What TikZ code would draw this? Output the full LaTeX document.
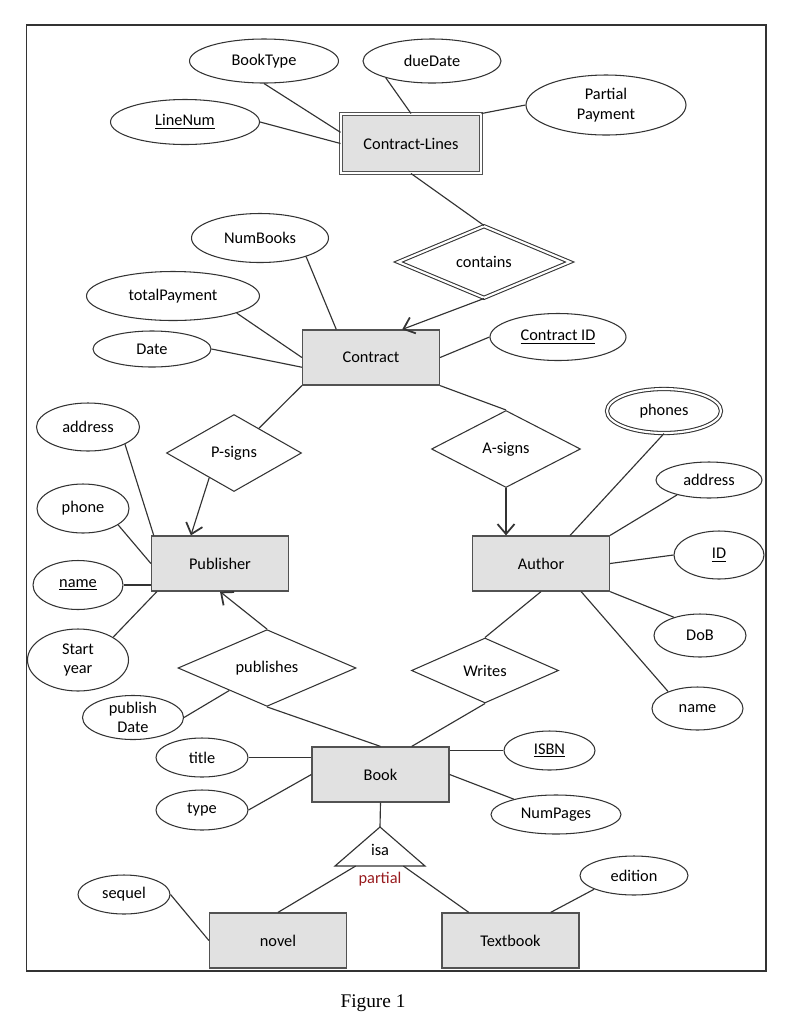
\documentclass[tikz,border=0pt]{standalone}
\usepackage{fontspec}
\setmainfont{Carlito}
\newfontfamily\capfont{Liberation Serif}
\usetikzlibrary{arrows.meta, calc, shapes.geometric}
\definecolor{entfill}{HTML}{E1E1E1}
\definecolor{edgegray}{HTML}{333333}
\definecolor{partred}{HTML}{981B1E}
\tikzset{
  erfont/.style     = {font=\fontsize{9.3}{11.2}\selectfont, text=black},
  entity/.style     = {rectangle, draw=edgegray!85, fill=entfill, line width=0.7pt,
                       minimum width=27.4mm, minimum height=11mm, inner sep=0pt, erfont},
  weakentity/.style = {entity, double=white, double distance=1.3pt, line width=0.55pt,
                       minimum width=28mm, minimum height=11.8mm},
  attr/.style 2 args      = {ellipse, draw=edgegray, fill=white, line width=0.6pt,
                             minimum width=#1, minimum height=#2, inner sep=0pt,
                             erfont, align=center},
  multiattr/.style 2 args = {attr={#1}{#2}, double=white, double distance=1.2pt},
  rel/.style 2 args       = {diamond, draw=edgegray, fill=white, line width=0.6pt,
                             minimum width=#1, minimum height=#2, inner sep=0pt, erfont},
  weakrel/.style 2 args   = {rel={#1}{#2}, double=white, double distance=1.2pt},
  link/.style       = {draw=edgegray, line width=0.65pt},
  onearrow/.style   = {link, -{Straight Barb[length=2mm, width=3.4mm, line width=1pt]}},
}

\begin{document}
\begin{tikzpicture}[x=0.2mm, y=-0.2mm]
  \useasboundingbox (0,0) rectangle (786,1024);
  \draw[edgegray, line width=0.8pt] (26.5,25) rectangle (766,971);

  % contract lines
  \node[weakentity] (clines) at (411,143.5) {Contract-Lines};
  \node[attr={29.8mm}{8.8mm}] (booktype) at (264,61) {BookType};
  \node[attr={27.6mm}{8.8mm}] (duedate) at (432,61) {dueDate};
  \node[attr={32mm}{12mm}] (partpay) at (606,105) {Partial\\Payment};
  \node[attr={29.8mm}{9mm}] (linenum) at (185,122) {\underline{LineNum}};
  \node[weakrel={34.4mm}{14.4mm}] (contains) at (484,262) {contains};

  % contract
  \node[entity] (contract) at (371,357.5) {Contract};
  \node[attr={27.4mm}{9.8mm}] (numbooks) at (260,238) {NumBooks};
  \node[attr={34.6mm}{9.8mm}] (totpay) at (173,296) {totalPayment};
  \node[attr={23.6mm}{7.2mm}] (date) at (152,349) {Date};
  \node[attr={27.2mm}{9.4mm}] (contractid) at (558,337) {\underline{Contract ID}};
  \node[rel={27mm}{15.4mm}] (psigns) at (234,453) {P-signs};
  \node[rel={29.8mm}{15.4mm}] (asigns) at (506,449) {A-signs};

  % publisher
  \node[entity] (publisher) at (220,563.5) {Publisher};
  \node[attr={20.6mm}{9.6mm}] (pubaddr) at (88,427) {address};
  \node[attr={18.4mm}{9.8mm}] (pubphone) at (83,508.5) {phone};
  \node[attr={18mm}{9.8mm}] (pubname) at (78,585) {\underline{name}};
  \node[attr={20.2mm}{12.4mm}] (startyear) at (78,660) {Start\\year};

  % author
  \node[entity] (author) at (541,563.5) {Author};
  \node[multiattr={22.8mm}{8.8mm}] (phones) at (664,411) {phones};
  \node[attr={21.2mm}{7.2mm}] (autaddr) at (709,480) {address};
  \node[attr={18mm}{9.6mm}] (autid) at (719,555) {\underline{ID}};
  \node[attr={18.4mm}{8.6mm}] (dob) at (700,635.5) {DoB};
  \node[attr={18.2mm}{8.6mm}] (autname) at (697.5,708.5) {name};

  \node[rel={35.6mm}{14mm}] (publishes) at (267,668) {publishes};
  \node[rel={29.4mm}{13mm}] (writes) at (485,670.5) {Writes};
  \node[attr={20.2mm}{8.6mm}] (pubdate) at (133,717.5) {publish\\Date};

  % book
  \node[entity] (book) at (380.5,774.5) {Book};
  \node[attr={18.4mm}{7.8mm}] (btitle) at (202,757.5) {title};
  \node[attr={18.4mm}{8mm}] (btype) at (202,810) {type};
  \node[attr={18.2mm}{7.8mm}] (isbn) at (549.5,750.5) {\underline{ISBN}};
  \node[attr={26mm}{7.8mm}] (numpages) at (556,814.5) {NumPages};

  % isa
  \coordinate (isatop) at (380,827);
  \coordinate (isaleft) at (335,866);
  \coordinate (isaright) at (425,866);
  \draw[link, fill=white] (isatop) -- (isaleft) -- (isaright) -- cycle;
  \node[erfont] (isa) at (380,850) {isa};
  \node[erfont, text=partred] (partial) at (380,879) {partial};

  \node[entity] (novel) at (278,940.5) {novel};
  \node[entity] (textbook) at (510.5,940.5) {Textbook};
  \node[attr={18.4mm}{7.8mm}] (sequel) at (124,894.5) {sequel};
  \node[attr={21.6mm}{7.8mm}] (edition) at (634,875.5) {edition};

  \node[font=\capfont\fontsize{11}{13}\selectfont] (caption) at (373,1003) {Figure 1};

  % connectors
  \draw[link] (booktype.south) -- (clines.171);
  \draw[link] (linenum.east) -- (clines.west);
  \draw[link] (duedate.200) -- (clines.north);
  \draw[link] (clines.north east) -- (partpay.west);
  \draw[link] (clines.south) -- (contains.north);
  \draw[onearrow] (contains.south) -- (contract.42);
  \draw[link] (numbooks.-22) -- (contract.141);
  \draw[link] (totpay.-15) -- (contract.west);
  \draw[link] (date.east) -- (contract.188);
  \draw[link] (contract.east) -- (contractid.west);
  \draw[link] (contract.south west) -- (psigns);
  \draw[onearrow] (psigns.225) -- (publisher.136);
  \draw[link] (contract.south east) -- (asigns.north);
  \draw[onearrow] (asigns.south) -- (asigns.south |- author.north);
  \draw[link] (pubaddr.-25) -- (publisher.157);
  \draw[link] (pubphone.-25) -- (publisher.west);
  \draw[link] (pubname.east) -- (pubname.east -| publisher.west);
  \draw[link] (startyear.33) -- (publisher.204);
  \draw[onearrow] (publishes.north) -- (publisher.south);
  \draw[link] (pubdate.east) -- (publishes);
  \draw[link] (publishes.south) -- (book.north);
  \draw[link] (phones.south) -- (author.44);
  \draw[link] (autaddr.205) -- (author.north east);
  \draw[link] (author.east) -- (autid.west);
  \draw[link] (author.south east) -- (dob.145);
  \draw[link] (author.-35) -- (autname.150);
  \draw[link] (author.south) -- (writes.north);
  \draw[link] (writes.south) -- (book.42);
  \draw[link] (btitle.east) -- (btitle.east -| book.west);
  \draw[link] (btype.east) -- (book.west);
  \draw[link] (isbn.west) -- (isbn.west -| book.east);
  \draw[link] (book.east) -- (numpages.160);
  \draw[link] (book.south) -- (isatop);
  \draw[link] (novel.north) -- ($(isaleft)!0.23!(isaright)$);
  \draw[link] (textbook.146) -- ($(isaleft)!0.76!(isaright)$);
  \draw[link] (sequel.east) -- (novel.west);
  \draw[link] (edition.199) -- (textbook.35);
\end{tikzpicture}
\end{document}
